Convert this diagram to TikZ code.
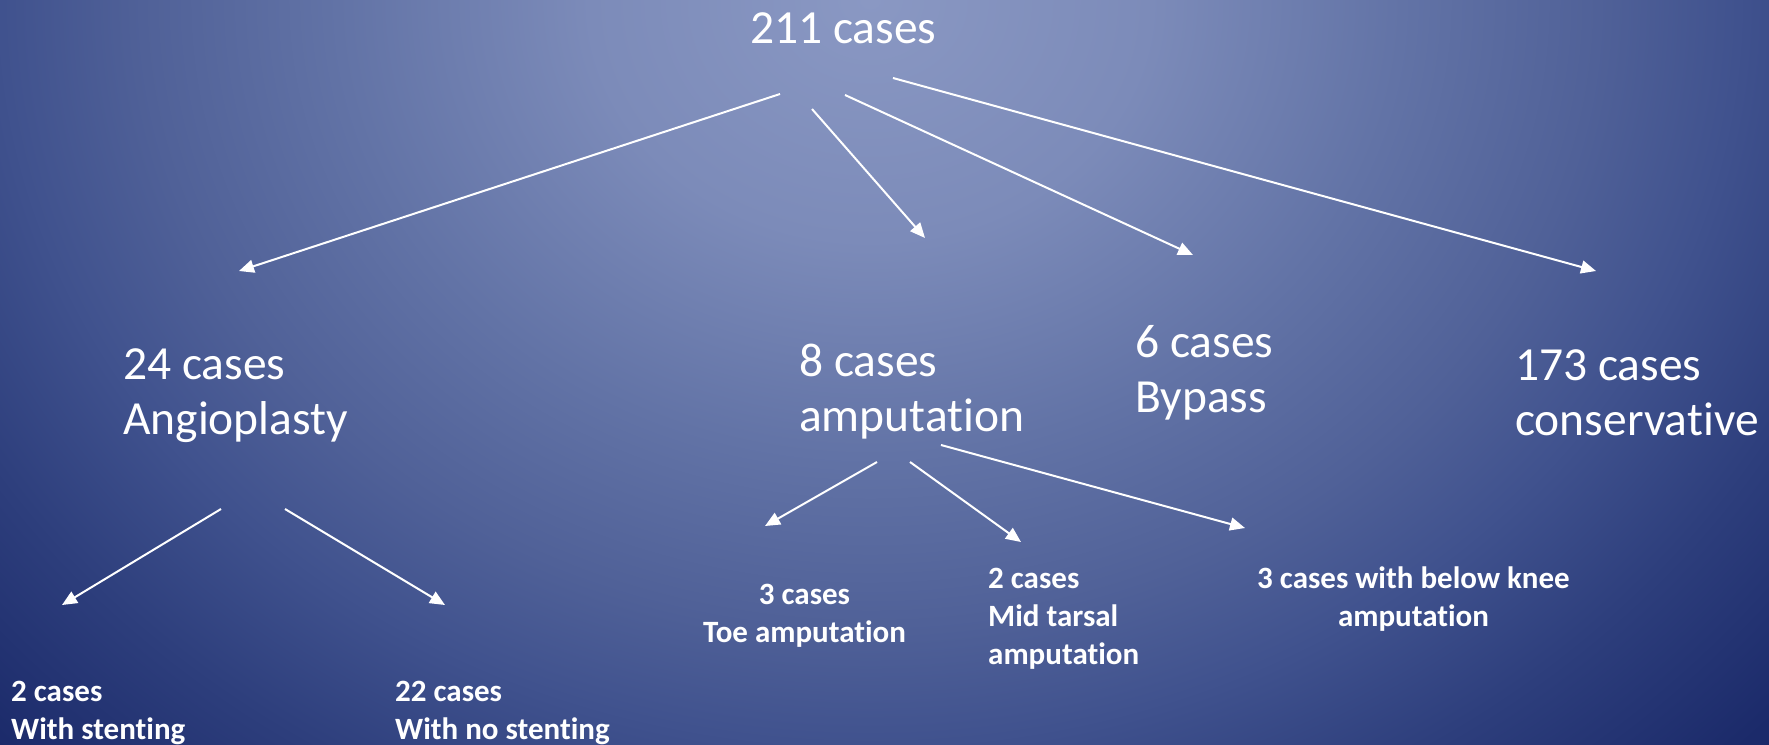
\documentclass[tikz,border=0pt]{standalone}
\usepackage{fontspec}
\setmainfont{Carlito}[Ligatures={NoCommon,NoContextual}]
\usetikzlibrary{arrows.meta}
\definecolor{bg0}{RGB}{138,152,195}
\definecolor{bg1}{RGB}{124,139,185}
\definecolor{bg2}{RGB}{98,115,166}
\definecolor{bg3}{RGB}{80,97,152}
\definecolor{bg4}{RGB}{64,82,142}
\definecolor{bg5}{RGB}{45,62,124}
\definecolor{bg6}{RGB}{27,42,106}
\definecolor{bg7}{RGB}{22,36,100}
\pgfdeclareradialshading{bgshade}{\pgfpoint{0bp}{0bp}}{%
  color(0bp)=(bg0); color(5bp)=(bg1); color(9.5bp)=(bg2); color(13bp)=(bg3);
  color(15.5bp)=(bg4); color(18.5bp)=(bg5); color(22bp)=(bg6); color(25bp)=(bg7);
  color(50bp)=(bg7)}
\tikzset{
  big/.style={text=white, inner sep=0pt, font=\fontsize{47.5}{55}\selectfont},
  small/.style={text=white, inner sep=0pt, font=\fontsize{31}{38}\selectfont\bfseries},
  arr/.style={draw=white, line width=2pt, -{Triangle[length=15pt,width=13pt]}}
}
\begin{document}
\begin{tikzpicture}[x=1pt,y=-1pt]
\useasboundingbox (0,0) rectangle (1769,744);
\begin{scope}
  \clip (0,0) rectangle (1769,744);
  \shade[shading=bgshade] (870,0) ellipse [x radius=1400pt, y radius=1200pt];
\end{scope}

% level 0
\node[big, anchor=base west] (total) at (750,43) {211 cases};
% level 1 (base anchor = baseline of the last line)
\node[big, align=left, anchor=base west] (angio) at (123,434) {24 cases\\Angioplasty};
\node[big, align=left, anchor=base west] (amput) at (799,431) {8 cases\\amputation};
\node[big, align=left, anchor=base west] (bypass) at (1135,412) {6 cases\\Bypass};
\node[big, align=left, anchor=base west] (cons) at (1515,435) {173 cases\\conservative};
% level 2
\node[small, align=left, anchor=base west] (stent) at (11,739) {2 cases\\With stenting};
\node[small, align=left, anchor=base west] (nostent) at (395,739) {22 cases\\With no stenting};
\node[small, align=center, anchor=base] (toe) at (804.5,642) {3 cases\\Toe amputation};
\node[small, align=left, anchor=base west] (mid) at (988,664) {2 cases\\Mid tarsal\\amputation};
\node[small, align=center, anchor=base] (knee) at (1413.5,626) {3 cases with below knee\\amputation};

% connector end points
\coordinate (a1s) at (780,94);  \coordinate (a1e) at (239,271);
\coordinate (a2s) at (812,109); \coordinate (a2e) at (925,238);
\coordinate (a3s) at (845,95);  \coordinate (a3e) at (1193,255);
\coordinate (a4s) at (893,78);  \coordinate (a4e) at (1596,271);
\coordinate (b1s) at (221,509); \coordinate (b1e) at (62,605);
\coordinate (b2s) at (285,509); \coordinate (b2e) at (445,605);
\coordinate (c1s) at (877,462); \coordinate (c1e) at (765,526);
\coordinate (c2s) at (910,462); \coordinate (c2e) at (1021,542);
\coordinate (c3s) at (941,445); \coordinate (c3e) at (1245,528);

\draw[arr] (a1s) -- (a1e);
\draw[arr] (a2s) -- (a2e);
\draw[arr] (a3s) -- (a3e);
\draw[arr] (a4s) -- (a4e);
\draw[arr] (b1s) -- (b1e);
\draw[arr] (b2s) -- (b2e);
\draw[arr] (c1s) -- (c1e);
\draw[arr] (c2s) -- (c2e);
\draw[arr] (c3s) -- (c3e);
\end{tikzpicture}
\end{document}
